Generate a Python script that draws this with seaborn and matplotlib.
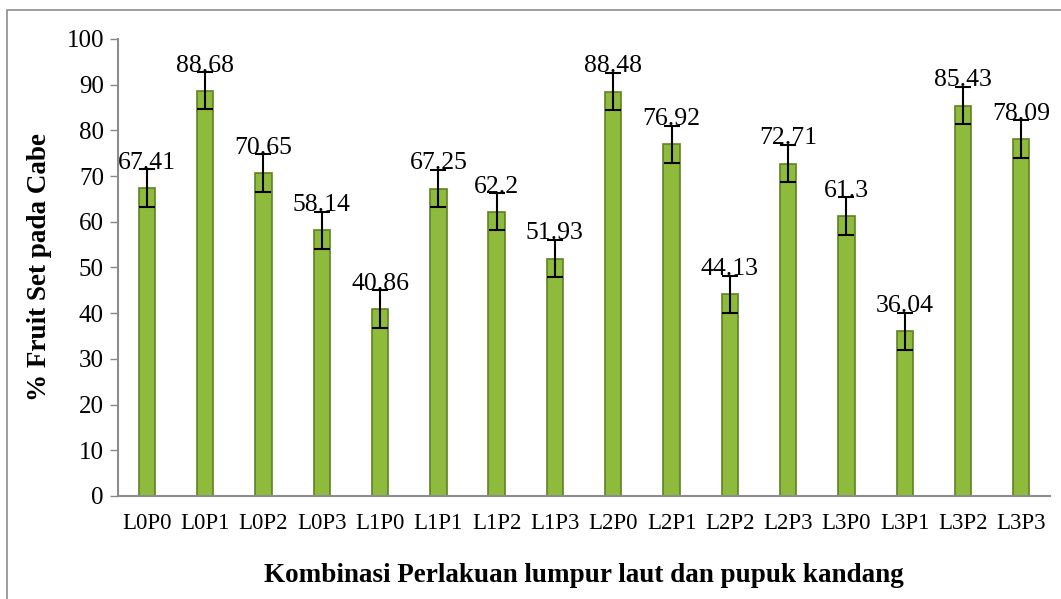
import matplotlib
matplotlib.use("Agg")
import matplotlib.pyplot as plt
import matplotlib.patches as mpatches
import pandas as pd
import seaborn as sns

# data
treatments = ["L0P0", "L0P1", "L0P2", "L0P3", "L1P0", "L1P1", "L1P2", "L1P3",
              "L2P0", "L2P1", "L2P2", "L2P3", "L3P0", "L3P1", "L3P2", "L3P3"]
fruit_set = [67.41, 88.68, 70.65, 58.14, 40.86, 67.25, 62.2, 51.93,
             88.48, 76.92, 44.13, 72.71, 61.3, 36.04, 85.43, 78.09]
value_labels = ["67.41", "88.68", "70.65", "58.14", "40.86", "67.25", "62.2", "51.93",
                "88.48", "76.92", "44.13", "72.71", "61.3", "36.04", "85.43", "78.09"]
errors = [4.1, 4.1, 4.1, 4.1, 4.1, 4.1, 4.1, 4.1,
          4.1, 4.1, 4.1, 4.1, 4.1, 4.1, 4.1, 4.1]
y_ticks = [0, 10, 20, 30, 40, 50, 60, 70, 80, 90, 100]

df = pd.DataFrame({"treatment": treatments, "fruit_set": fruit_set})

sns.set_style("white")
plt.rcParams["font.family"] = ["Liberation Serif", "DejaVu Serif"]
plt.rcParams["text.color"] = "black"
plt.rcParams["axes.labelcolor"] = "black"
plt.rcParams["xtick.color"] = "black"
plt.rcParams["ytick.color"] = "black"

fig = plt.figure(figsize=(10.61, 5.99), dpi=100)
ax = fig.add_axes([0.111, 0.172, 0.879, 0.763])

sns.barplot(data=df, x="treatment", y="fruit_set", color="#8fbb3c",
            width=0.28, saturation=1, edgecolor="#5f8125", linewidth=1.2, ax=ax)

ax.errorbar(range(len(treatments)), fruit_set, yerr=errors, fmt="none",
            ecolor="black", elinewidth=1.5, capsize=6, capthick=1.5)

for i, (v, e, lab) in enumerate(zip(fruit_set, errors, value_labels)):
    ax.text(i, v + e - 1.0, lab, ha="center", va="bottom", fontsize=18.5, color="black")

ax.set_xlim(-0.5, len(treatments) - 0.5)
ax.set_ylim(0, 100)
ax.set_yticks(y_ticks)
ax.tick_params(axis="y", labelsize=18, length=6, width=1, color="#888888",
               labelcolor="black", direction="out", left=True, pad=4)
ax.tick_params(axis="x", labelsize=16.5, length=0, pad=12, labelcolor="black")

for side in ["top", "right"]:
    ax.spines[side].set_visible(False)
for side in ["left", "bottom"]:
    ax.spines[side].set_color("#8c8c8c")
    ax.spines[side].set_linewidth(1.5)

ax.set_xlabel("Kombinasi Perlakuan lumpur laut dan pupuk kandang", fontsize=19.5,
              fontweight="bold", labelpad=21, color="black")
ax.set_ylabel("% Fruit Set pada Cabe", fontsize=19.5, fontweight="bold",
              labelpad=10, color="black")

# outer chart border
border = mpatches.Rectangle((7 / 1061, -0.05), 1.2, 1 - 10 / 599 + 0.05,
                            transform=fig.transFigure, fill=False,
                            edgecolor="#8c8c8c", linewidth=1.2)
fig.patches.append(border)

fig.savefig("out.png", dpi=100)
